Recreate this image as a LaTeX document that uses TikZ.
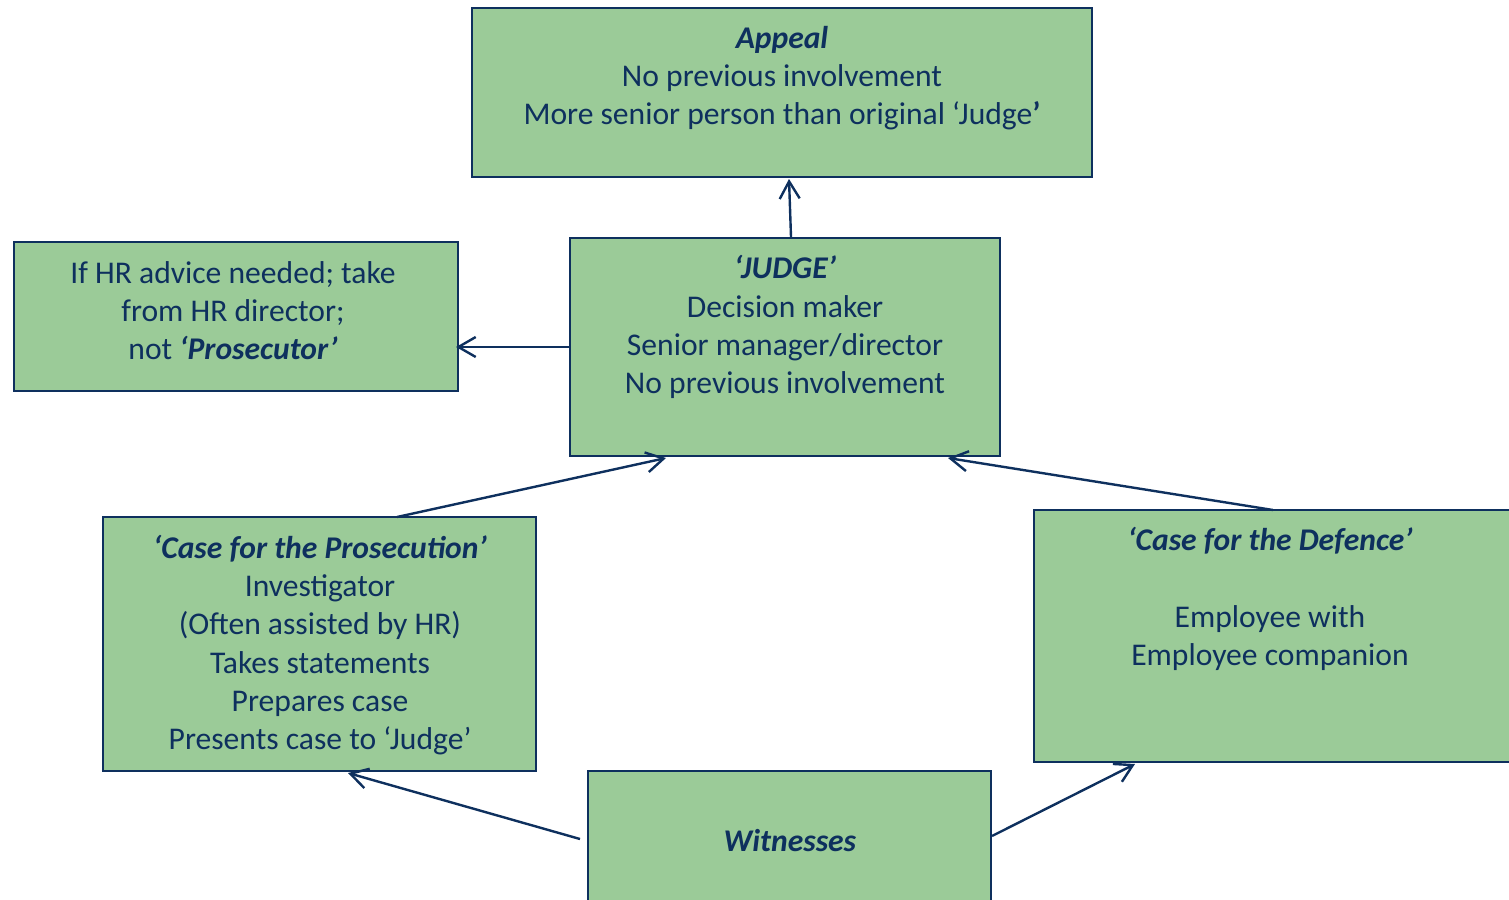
\documentclass[tikz,border=0pt]{standalone}
\usepackage{fontspec}
\setmainfont{Carlito}
\usetikzlibrary{arrows.meta,fit}
\definecolor{boxgreen}{HTML}{9BCB98}
\definecolor{navy}{HTML}{0E305E}
\tikzset{
  box/.style={draw=navy, line width=1.5pt, fill=boxgreen, inner sep=0pt},
  txt/.style={text=navy, align=center, inner sep=0pt, font=\fontsize{23.7}{28.6}\selectfont},
  conn/.style={draw=navy, line width=1.8pt, -{Straight Barb[length=13pt,width=15pt,line width=1.8pt]}},
}
\begin{document}
\begin{tikzpicture}[x=0.75pt,y=-0.75pt]
\useasboundingbox (0,0) rectangle (1509,899);
\clip (0,0) rectangle (1509,899);
% box corners
\coordinate (a1) at (472,8);    \coordinate (a2) at (1092,177);
\coordinate (h1) at (14,242);   \coordinate (h2) at (458,391);
\coordinate (j1) at (570,238);  \coordinate (j2) at (1000,456);
\coordinate (p1) at (103,517);  \coordinate (p2) at (536,771);
\coordinate (d1) at (1034,510); \coordinate (d2) at (1520,762);
\coordinate (w1) at (588,771);  \coordinate (w2) at (991,910);
\node[box, fit=(a1)(a2)] (appeal) {};
\node[box, fit=(h1)(h2)] (hr) {};
\node[box, fit=(j1)(j2)] (judge) {};
\node[box, fit=(p1)(p2)] (pros) {};
\node[box, fit=(d1)(d2)] (def) {};
\node[box, fit=(w1)(w2)] (wit) {};
% texts
\node[txt] (appealtxt) at (782,78) {\textbf{\textit{Appeal}}\\No previous involvement\\More senior person than original ‘Judge\textbf{’}};
\node[txt] (hrtxt) at (233,311) {If HR advice needed; take\\from HR director;\\not \textbf{\textit{‘Prosecutor’}}};
\node[txt] (judgetxt) at (785,327) {\textbf{\textit{‘JUDGE’}}\\Decision maker\\Senior manager/director\\No previous involvement};
\node[txt] (prostxt) at (320,645) {\textbf{\textit{‘Case for the Prosecution’}}\\Investigator\\(Often assisted by HR)\\Takes statements\\Prepares case\\Presents case to ‘Judge’};
\node[txt] (deftxt) at (1270,599) {\textbf{\textit{‘Case for the Defence’}}\\\mbox{}\\Employee with\\Employee companion};
\node[txt] (wittxt) at (790,841) {\textbf{\textit{Witnesses}}};
% connector end points
\coordinate (jt) at (791,237);  \coordinate (ab) at (789,179);
\coordinate (jl) at (570,347);  \coordinate (hrr) at (456,347);
\coordinate (pt) at (397,517);  \coordinate (jb1) at (666,458);
\coordinate (dt) at (1273,510); \coordinate (jb2) at (948,458);
\coordinate (wl) at (580,839);  \coordinate (pb) at (348,773);
\coordinate (wr) at (992,836);  \coordinate (db) at (1135,764);
\draw[conn] (jt) -- (ab);
\draw[conn] (jl) -- (hrr);
\draw[conn] (pt) -- (jb1);
\draw[conn] (dt) -- (jb2);
\draw[conn] (wl) -- (pb);
\draw[conn] (wr) -- (db);
\end{tikzpicture}
\end{document}
